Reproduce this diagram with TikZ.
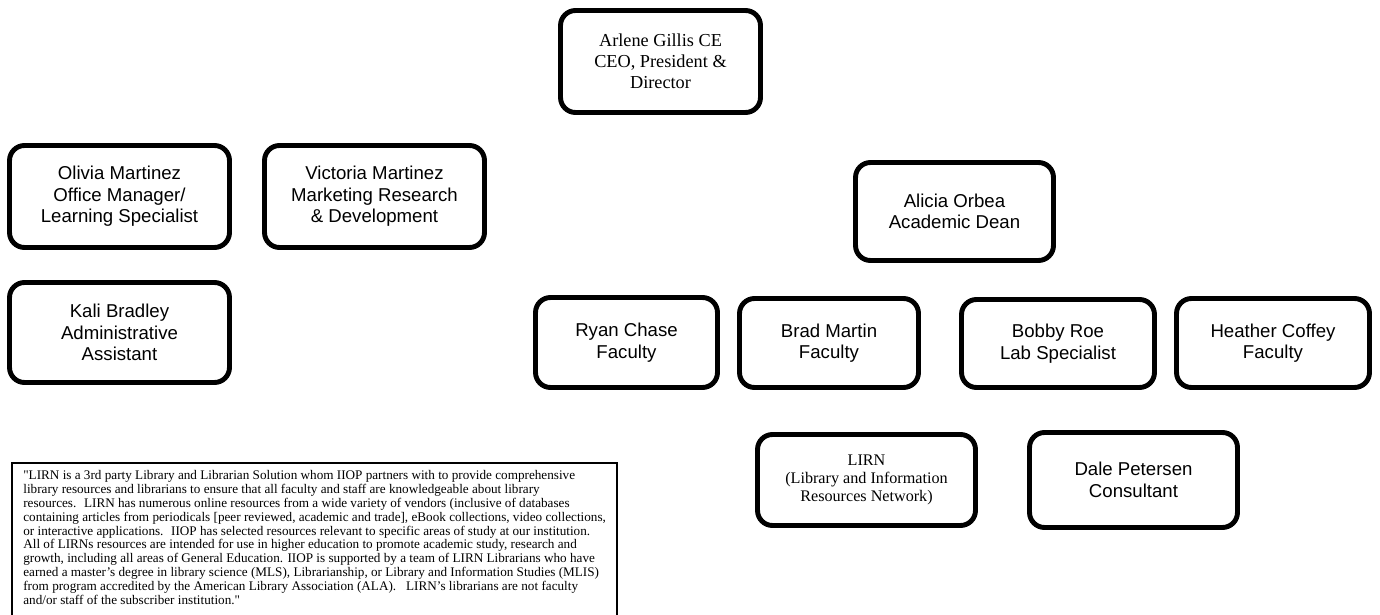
\documentclass[tikz,border=0pt]{standalone}
\usepackage{fontspec}
\setmainfont{Liberation Serif}[Ligatures=TeXOff]
\newfontfamily\arialfont{Liberation Sans}
\usetikzlibrary{positioning}
\tikzset{
  staff/.style={draw, line width=2.8pt, rounded corners=0.3cm, align=center,
    inner sep=0pt, font=\arialfont\fontsize{10.6}{12.2}\selectfont},
  serifstaff/.style={staff, font=\fontsize{10.4}{12}\selectfont},
  notebox/.style={align=left, anchor=north west, inner xsep=0.22cm,
    inner ysep=0.14cm, font=\fontsize{7.5}{7.9}\selectfont},
}
\begin{document}
\begin{tikzpicture}[x=0.02cm,y=-0.02cm]
\clip (0,0) rectangle (1380,615);
\node[serifstaff, minimum width=4.0cm, minimum height=2.04cm] (ceo) at (660.5,61.5) {Arlene Gillis CE\\CEO, President \&\\Director};
\node[staff, minimum width=4.4cm, minimum height=2.04cm] (olivia) at (119.5,196.5) {Olivia Martinez\\Office Manager/\\Learning Specialist};
\node[staff, minimum width=4.4cm, minimum height=2.04cm] (victoria) at (374.5,196.5) {Victoria Martinez\\Marketing Research\\\& Development};
\node[staff, minimum width=4.4cm, minimum height=2.0cm] (kali) at (119.5,332.5) {Kali Bradley\\Administrative\\Assistant};
\node[staff, minimum width=3.96cm, minimum height=1.96cm] (alicia) at (954.5,211.5) {Alicia Orbea\\Academic Dean};
\node[staff, minimum width=3.64cm, minimum height=1.8cm] (ryan) at (626.5,342.5) {Ryan Chase\\Faculty};
\node[staff, minimum width=3.58cm, minimum height=1.78cm] (brad) at (829,343) {Brad Martin\\Faculty};
\node[staff, minimum width=3.86cm, minimum height=1.76cm] (bobby) at (1058,343.5) {Bobby Roe\\Lab Specialist};
\node[staff, minimum width=3.86cm, minimum height=1.78cm] (heather) at (1273,343) {Heather Coffey\\Faculty};
\node[serifstaff, font=\fontsize{9.2}{10.4}\selectfont, minimum width=4.36cm, minimum height=1.82cm] (lirn) at (866.5,480) {LIRN\\(Library and Information\\Resources Network)};
\node[staff, minimum width=4.16cm, minimum height=1.9cm] (dale) at (1133.5,480) {Dale Petersen\\Consultant};
\node[notebox] (note) at (12,463) {"LIRN is a 3rd party Library and Librarian Solution whom IIOP partners with to provide comprehensive\\
library resources and librarians to ensure that all faculty and staff are knowledgeable about library\\
resources.~ LIRN has numerous online resources from a wide variety of vendors (inclusive of databases\\
containing articles from periodicals [peer reviewed, academic and trade], eBook collections, video collections,\\
or interactive applications.~ IIOP has selected resources relevant to specific areas of study at our institution.\\
All of LIRNs resources are intended for use in higher education to promote academic study, research and\\
growth, including all areas of General Education. IIOP is supported by a team of LIRN Librarians who have\\
earned a master’s degree in library science (MLS), Librarianship, or Library and Information Studies (MLIS)\\
from program accredited by the American Library Association (ALA).~~ LIRN’s librarians are not faculty\\
and/or staff of the subscriber institution."};
\draw[line width=0.8pt] ([yshift=-0.3cm]note.south west) -- (note.north west) -- (note.north east) -- ([yshift=-0.3cm]note.south east);
\end{tikzpicture}
\end{document}
